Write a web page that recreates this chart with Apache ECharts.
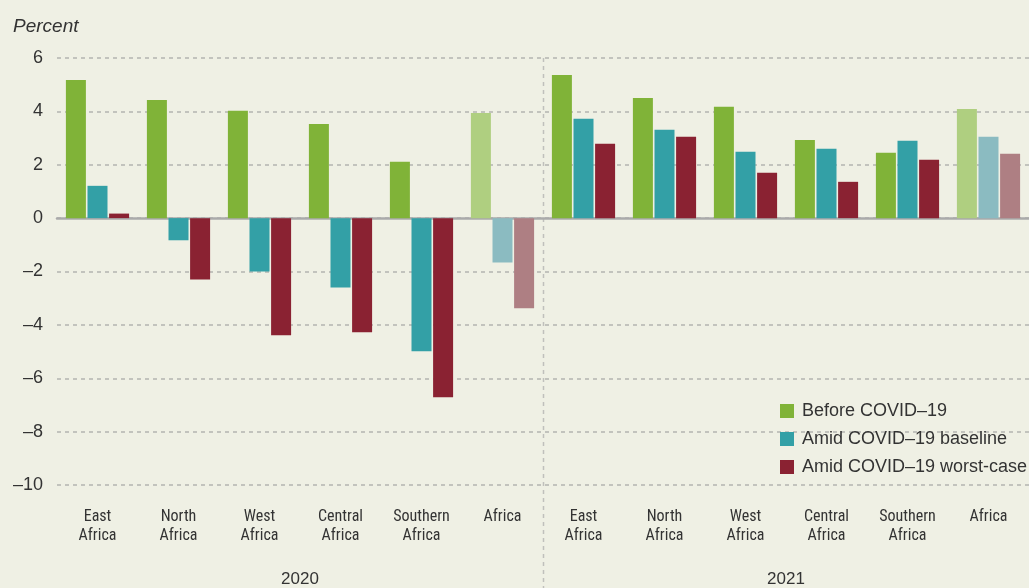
<!DOCTYPE html>
<html>
<head>
<meta charset="utf-8">
<script src="https://cdn.jsdelivr.net/npm/echarts@6/dist/echarts.min.js"></script>
<style>
  html, body { margin: 0; padding: 0; background: #eff0e4; }
  #chart { width: 1029px; height: 588px; }
</style>
</head>
<body>
<div id="chart"></div>
<script>
const categories = [
  'East\nAfrica', 'North\nAfrica', 'West\nAfrica', 'Central\nAfrica', 'Southern\nAfrica', 'Africa',
  'East\nAfrica', 'North\nAfrica', 'West\nAfrica', 'Central\nAfrica', 'Southern\nAfrica', 'Africa'
]
const years = ['2020', '2021']
const seriesNames = ['Before COVID\u201319', 'Amid COVID\u201319 baseline', 'Amid COVID\u201319 worst-case']
const beforeCovid = [5.18, 4.43, 4.02, 3.53, 2.11, 3.94, 5.36, 4.5, 4.17, 2.93, 2.45, 4.09]
const amidBaseline = [1.21, -0.83, -2.0, -2.6, -4.99, -1.66, 3.72, 3.31, 2.49, 2.6, 2.9, 3.05]
const amidWorst = [0.17, -2.3, -4.39, -4.28, -6.71, -3.38, 2.79, 3.05, 1.70, 1.36, 2.19, 2.41]
const yTicks = [-10, -8, -6, -4, -2, 0, 2, 4, 6]

const colors = ['#80b338', '#33a0a6', '#8a2232']
const lightColors = ['#afcf80', '#8bbbc1', '#ae7f83']
const labelFont = '"Liberation Sans Narrow", "Roboto Condensed", "Liberation Sans", sans-serif'
const textFont = '"Liberation Sans", Arial, sans-serif'

const chart = echarts.init(document.getElementById('chart'))

function buildData(values, idx) {
  return values.map(function(v, i) {
    // the "Africa" totals are drawn in paler shades
    if (i === 5 || i === 11) {
      return { value: v, itemStyle: { color: lightColors[idx] } }
    }
    return v
  })
}

const series = [beforeCovid, amidBaseline, amidWorst].map(function(values, idx) {
  return {
    name: seriesNames[idx],
    type: 'bar',
    barWidth: 20,
    barGap: '8%',
    itemStyle: { color: colors[idx] },
    data: buildData(values, idx)
  }
})

chart.setOption({
  backgroundColor: '#eff0e4',
  animation: false,
  grid: { left: 57, right: 0, top: 58, bottom: 102 },
  legend: {
    orient: 'vertical',
    left: 775,
    top: 397,
    itemWidth: 14,
    itemHeight: 14,
    itemGap: 10,
    icon: 'rect',
    textStyle: { color: '#333', fontSize: 18, fontFamily: textFont, padding: [0, 0, 0, 3] },
    data: seriesNames
  },
  xAxis: [{
    type: 'category',
    data: categories,
    axisLine: { onZero: true, lineStyle: { color: '#aaaaaa', width: 2.5 } },
    axisTick: { show: false },
    splitLine: { show: false },
    axisLabel: {
      interval: 0,
      color: '#333',
      fontSize: 16,
      fontFamily: labelFont,
      lineHeight: 19,
      margin: 22
    }
  }, {
    type: 'category',
    data: years,
    position: 'bottom',
    offset: 78,
    axisLine: { show: false },
    axisTick: { show: false },
    splitLine: { show: false },
    axisLabel: { color: '#333', fontSize: 17, fontFamily: textFont }
  }],
  yAxis: {
    type: 'value',
    min: yTicks[0],
    max: yTicks[yTicks.length - 1],
    interval: 2,
    axisLine: { show: false },
    axisTick: { show: false },
    axisLabel: {
      color: '#333',
      fontSize: 18,
      margin: 14,
      fontFamily: textFont,
      formatter(v) {
        return String(v).replace('-', '\u2013')
      }
    },
    splitLine: {
      show: true,
      lineStyle: { color: '#b4b4b0', type: [4, 4], width: 1.5 }
    }
  },
  series: series
})

// dashed divider between the two years, halfway between the 6th and 7th categories
const x5 = chart.convertToPixel({ xAxisIndex: 0 }, categories.length / 2 - 1)
const x6 = chart.convertToPixel({ xAxisIndex: 0 }, categories.length / 2)
const topY = chart.convertToPixel({ yAxisIndex: 0 }, yTicks[yTicks.length - 1])
const dividerX = Math.round((x5 + x6) / 2) + 0.5
chart.setOption({
  graphic: [{
    type: 'text',
    left: 13,
    top: 17,
    style: { text: 'Percent', fill: '#333', font: 'italic 19px ' + textFont }
  }, {
    type: 'line',
    z: 0,
    shape: { x1: dividerX, y1: topY, x2: dividerX, y2: 588 },
    style: { stroke: '#c0c0bc', lineWidth: 1.5, lineDash: [4, 4] }
  }]
})
</script>
</body>
</html>
